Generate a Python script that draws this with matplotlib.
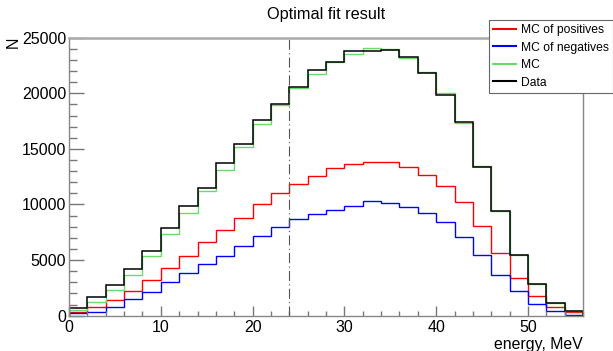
import numpy as np
import matplotlib.pyplot as plt
from matplotlib.ticker import MultipleLocator

plt.rcParams['font.family'] = ['Liberation Sans', 'DejaVu Sans']

# histogram binning: 28 bins of 2 MeV
edges = np.arange(0, 58, 2)

mc_pos = [340, 790, 1430, 2180, 3180, 4310, 5360, 6630, 7730, 8790,
          10060, 11030, 11800, 12580, 13250, 13610, 13850, 13790, 13400, 12680,
          11670, 10200, 8040, 5600, 3400, 1760, 760, 310]
mc_neg = [220, 360, 820, 1490, 2150, 3060, 3850, 4680, 5360, 6270,
          7130, 8000, 8660, 9150, 9550, 9910, 10270, 10150, 9780, 9240,
          8400, 7040, 5430, 3640, 2180, 1060, 460, 80]
mc_total = [520, 1220, 2270, 3700, 5360, 7360, 9240, 11250, 13090, 15170,
            17200, 18970, 20470, 21720, 22800, 23540, 24060, 23970, 23150, 21910,
            20000, 17300, 13490, 9380, 5480, 2830, 1180, 430]
data = [730, 1670, 2790, 4220, 5850, 7850, 9910, 11490, 13760, 15450,
        17580, 19000, 20610, 22120, 22850, 23760, 23790, 23850, 23240, 21790,
        19850, 17450, 13400, 9400, 5450, 2850, 1180, 430]

cut_energy = 24

fig = plt.figure(figsize=(6.13, 3.51), dpi=100)
ax = fig.add_axes([69 / 613, 35.3 / 351, 514 / 613, 278 / 351])

ax.stairs(mc_pos, edges, color='#ff0000', lw=1.0, label='MC of positives')
ax.stairs(mc_neg, edges, color='#0000ff', lw=1.0, label='MC of negatives')
ax.stairs(mc_total, edges, color='#66dd66', lw=1.0, label='MC')
ax.stairs(data, edges, color='black', lw=1.1, label='Data')

ax.axvline(cut_energy, color='#555555', lw=0.8, linestyle=(0, (9, 3, 1, 3)))

ax.set_xlim(0, 56)
ax.set_ylim(0, 25000)

ax.xaxis.set_major_locator(MultipleLocator(10))
ax.xaxis.set_minor_locator(MultipleLocator(2))
ax.yaxis.set_major_locator(MultipleLocator(5000))
ax.yaxis.set_minor_locator(MultipleLocator(1000))

ax.tick_params(axis='both', which='both', direction='in', colors='#777777',
               labelcolor='black', labelsize=11.5)
ax.tick_params(axis='x', which='major', length=7, width=1, pad=3)
ax.tick_params(axis='x', which='minor', length=3.5, width=1)
ax.tick_params(axis='y', which='major', length=11, width=1, pad=2)
ax.tick_params(axis='y', which='minor', length=5.5, width=1)

for side in ['left', 'bottom', 'right']:
    ax.spines[side].set_color('#888888')
    ax.spines[side].set_linewidth(1.0)
ax.spines['top'].set_color('#aaaaaa')
ax.spines['top'].set_linewidth(1.8)

fig.text(326 / 613, 1 - 14 / 351, 'Optimal fit result', ha='center', va='center', fontsize=11.7)
fig.text(13 / 613, 1 - 37 / 351, 'N', rotation=90, ha='center', va='top', fontsize=11.5)
ax.text(1.0, -0.075, 'energy, MeV', transform=ax.transAxes, ha='right', va='top', fontsize=11.4)

leg = fig.legend(loc='upper right', bbox_to_anchor=(1.0, 1 - 20 / 351), fontsize=8.7,
                 fancybox=False, framealpha=1, edgecolor='#666666',
                 handlelength=1.9, handletextpad=0.4, labelspacing=0.45,
                 borderpad=0.35, borderaxespad=0)
leg.get_frame().set_linewidth(0.8)
for line in leg.get_lines():
    line.set_linewidth(1.5)

fig.savefig('out.png', dpi=100)
